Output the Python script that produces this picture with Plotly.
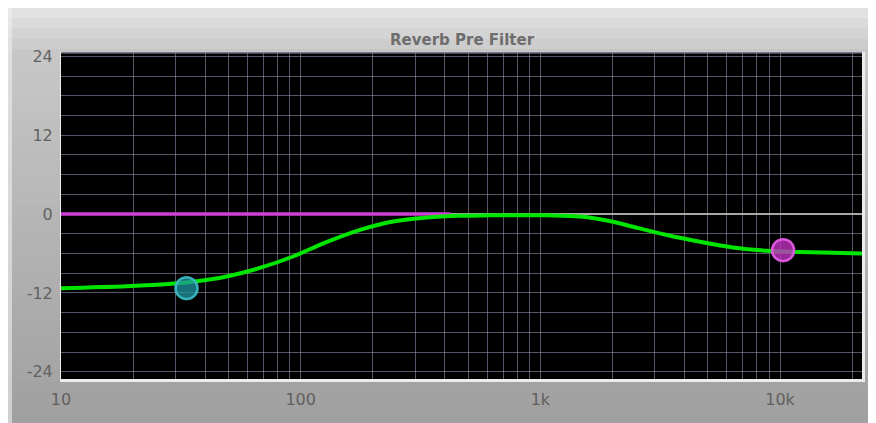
import plotly.graph_objects as go

# ---- data ----
freq_hz = [10, 18.8, 25.9, 35.5, 49.1, 67.6, 92.9, 128, 177, 243, 336, 462, 620, 800, 1066,
           1463, 2010, 2433, 3373, 4633, 6360, 8810, 12100, 16630, 22000]
gain_db = [-11.28, -10.98, -10.72, -10.3, -9.5, -8.2, -6.46, -4.27, -2.4, -1.13, -0.52, -0.26,
           -0.2, -0.18, -0.2, -0.38, -1.17, -1.94, -3.2, -4.22, -5.08, -5.59, -5.79, -5.9, -5.99]
flat_freq = [10, 420]
flat_gain = [0, 0]
low_node_freq = [33.4]
low_node_gain = [-11.28]
high_node_freq = [10300]
high_node_gain = [-5.5]
x_tick_vals = [10, 100, 1000, 10000]
x_tick_text = ["10", "100", "1k", "10k"]
x_minor_vals = [20, 30, 40, 50, 60, 70, 80, 90, 200, 300, 400, 500, 600, 700, 800, 900,
                2000, 3000, 4000, 5000, 6000, 7000, 8000, 9000, 20000]
y_tick_vals = [-24, -12, 0, 12, 24]
y_tick_text = ["-24", "-12", "0", "12", "24"]
y_minor_vals = [-21, -18, -15, -9, -6, -3, 3, 6, 9, 15, 18, 21]
title_text = "Reverb Pre Filter"

# page body margin offsets the figure by 8px
OX, OY = 8, 8
W, H = 876 - OX, 423 - OY
L, R, T, B = 61 - OX, 876 - 862, 53 - OY, 423 - 379
pw, ph = W - L - R, H - T - B

def px(x):
    return (x - OX - L) / pw

def py(y):
    return (H - B - (y - OY)) / ph

fig = go.Figure()

fig.add_trace(go.Scatter(x=flat_freq, y=flat_gain, mode="lines",
                         line=dict(color="#d040d8", width=3.5), hoverinfo="skip"))
fig.add_trace(go.Scatter(x=freq_hz, y=gain_db, mode="lines",
                         line=dict(color="#00e600", width=4, shape="spline", smoothing=1.0)))
fig.add_trace(go.Scatter(x=low_node_freq, y=low_node_gain, mode="markers",
                         marker=dict(size=22, color="rgba(30,150,160,0.75)",
                                     line=dict(color="rgba(60,190,200,0.9)", width=2.5))))
fig.add_trace(go.Scatter(x=high_node_freq, y=high_node_gain, mode="markers",
                         marker=dict(size=22, color="rgba(190,50,190,0.8)",
                                     line=dict(color="rgba(225,90,225,0.95)", width=2.5))))

# bezel gradient
shapes = []
top_y, bot_y = OY, 423
n = 40
c_top = (230, 230, 230)
c_mid = (200, 200, 200)
c_bot = (160, 160, 160)
for i in range(n):
    y0 = top_y + (bot_y - top_y) * i / n
    y1 = top_y + (bot_y - top_y) * (i + 1) / n
    ym = (y0 + y1) / 2
    if ym < 53:
        t = (ym - top_y) / (53 - top_y)
        c = [int(c_top[k] + (c_mid[k] - c_top[k]) * t) for k in range(3)]
    else:
        t = (ym - 53) / (bot_y - 53)
        c = [int(c_mid[k] + (c_bot[k] - c_mid[k]) * t) for k in range(3)]
    shapes.append(dict(type="rect", xref="paper", yref="paper",
                       x0=px(OX - 2), x1=px(880), y0=py(y1 + 0.5), y1=py(y0 - 0.5),
                       fillcolor="rgb(%d,%d,%d)" % tuple(c), line=dict(width=0),
                       layer="below"))
# left highlight of bezel
shapes.append(dict(type="rect", xref="paper", yref="paper", x0=px(OX - 2), x1=px(OX + 4),
                   y0=py(425), y1=py(OY), fillcolor="rgba(238,238,238,0.6)",
                   line=dict(width=0), layer="below"))
# plot-area bevel highlight (bottom/right)
shapes.append(dict(type="rect", xref="paper", yref="paper", x0=px(60), x1=px(865),
                   y0=py(382), y1=py(52), fillcolor="#ececec",
                   line=dict(width=0), layer="below"))
shapes.append(dict(type="rect", xref="paper", yref="paper", x0=0, x1=1, y0=0, y1=1,
                   fillcolor="#000000", line=dict(width=0), layer="below"))
shapes.append(dict(type="line", xref="paper", yref="paper", x0=0, x1=1, y0=1, y1=1,
                   line=dict(color="#5a5870", width=1.5), layer="below"))

grid_c = "rgba(145,140,170,0.6)"
fig.update_layout(
    width=W, height=H,
    margin=dict(l=L, r=R, t=T, b=B),
    paper_bgcolor="#c4c4c4",
    plot_bgcolor="#000000",
    showlegend=False,
    shapes=shapes,
    font=dict(family="DejaVu Sans", color="#666666", size=16),
    xaxis=dict(type="log", range=[1, 4.342], tickvals=x_tick_vals, ticktext=x_tick_text,
               showgrid=True, gridcolor=grid_c, gridwidth=1, zeroline=False,
               ticks="outside", ticklen=6, tickcolor="rgba(0,0,0,0)",
               minor=dict(tickvals=x_minor_vals, showgrid=True, gridcolor=grid_c, gridwidth=1),
               showline=False, fixedrange=True,
               tickfont=dict(family="DejaVu Sans", size=16, color="#606060")),
    yaxis=dict(range=[-25.1, 24.5], tickvals=y_tick_vals, ticktext=y_tick_text,
               showgrid=True, gridcolor=grid_c, gridwidth=1,
               zeroline=True, zerolinecolor="#a8a8a8", zerolinewidth=1.5,
               ticks="outside", ticklen=4, tickcolor="rgba(0,0,0,0)",
               minor=dict(tickvals=y_minor_vals, showgrid=True, gridcolor=grid_c, gridwidth=1),
               showline=False, fixedrange=True,
               tickfont=dict(family="DejaVu Sans", size=16, color="#626262")),
    annotations=[dict(text="<b>" + title_text + "</b>", xref="paper", yref="paper",
                      x=px(462), y=py(40), xanchor="center", yanchor="middle",
                      showarrow=False,
                      font=dict(family="DejaVu Sans", size=15, color="#6e6e6e"))],
)

fig.write_html("out.html")
